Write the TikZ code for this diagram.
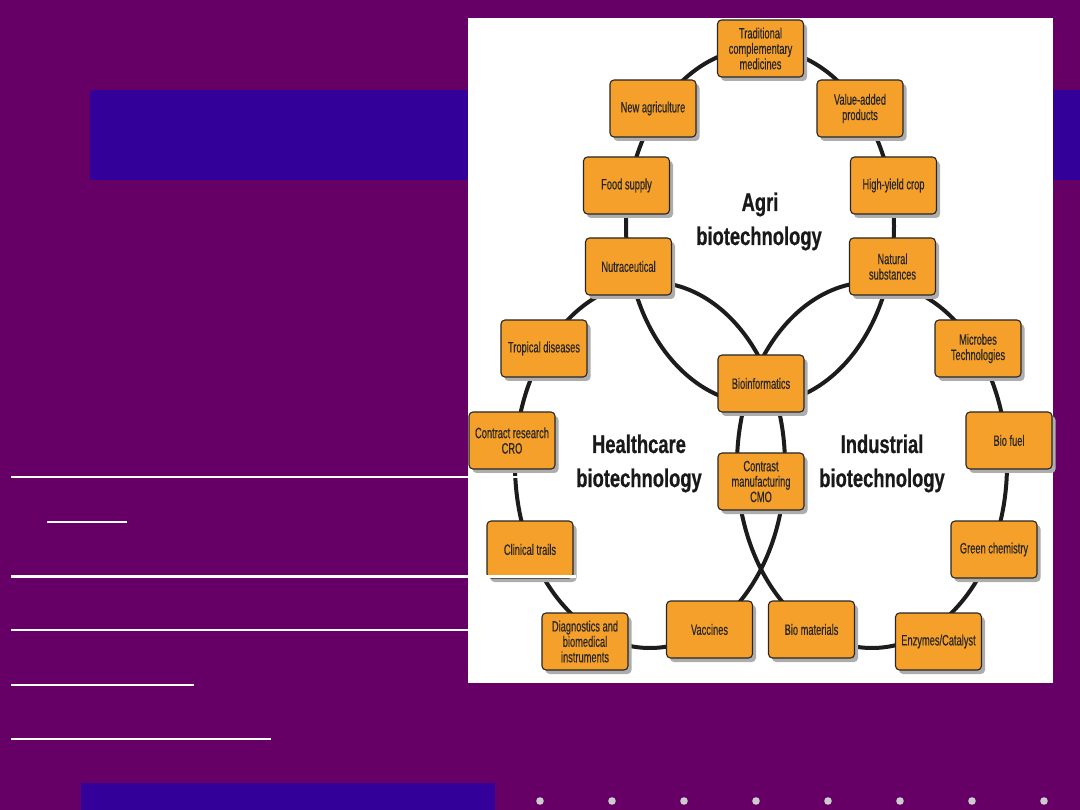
\documentclass[tikz,border=0pt]{standalone}
\usepackage{fontspec}
\usetikzlibrary{shadows}
\newfontfamily\boxfont[FakeStretch=0.62,FakeBold=0.25]{Liberation Sans}
\newfontfamily\labfont[FakeStretch=0.72,FakeBold=0.6]{Liberation Sans}
\definecolor{bgpurple}{HTML}{660066}
\definecolor{bandblue}{HTML}{330099}
\definecolor{boxorange}{HTML}{F5A02B}
\definecolor{ringcol}{HTML}{1C1C1C}
\definecolor{dotgray}{HTML}{CCCCCC}
\begin{document}
\begin{tikzpicture}[x=1pt,y=-1pt,
  item/.style={draw=black!85, line width=1.1pt, fill=boxorange, rounded corners=4pt,
    minimum width=86pt, minimum height=57pt, inner sep=1pt, align=center,
    font=\boxfont\fontsize{15}{15.4}\selectfont, text=black!85,
    drop shadow={shadow xshift=3.5pt, shadow yshift=-4pt, fill=black!32, opacity=1}},
  ring/.style={draw=ringcol, line width=4pt},
  heading/.style={font=\labfont\bfseries\fontsize{25.5}{30}\selectfont, anchor=base, text=black!90, inner sep=0pt},
  whiterule/.style={draw=white, line width=2.5pt}
]
\useasboundingbox (0,0) rectangle (1080,810);
\fill[bgpurple] (0,0) rectangle (1080,810);
\fill[bandblue] (90,90) rectangle (1080,180);
\fill[white] (468,18) rectangle (1053,683);

% three biotechnology rings
\draw[ring] (760,226) ellipse [x radius=134pt, y radius=178pt];
\draw[ring] (650,465) ellipse [x radius=135pt, y radius=183pt];
\draw[ring] (872,465) ellipse [x radius=135pt, y radius=183pt];

% headings
\node[heading] (agri1) at (760,211) {Agri};
\node[heading] (agri2) at (759,245) {biotechnology};
\node[heading] (health1) at (639,453) {Healthcare};
\node[heading] (health2) at (639,487) {biotechnology};
\node[heading] (indus1) at (882,453) {Industrial};
\node[heading] (indus2) at (882,487) {biotechnology};

% boxes
\node[item] (trad) at (760.5,48.5) {Traditional\\complementary\\medicines};
\node[item] (newag) at (653,108.5) {New agriculture};
\node[item] (valadd) at (860,108.5) {Value-added\\products};
\node[item] (food) at (626.5,185.5) {Food supply};
\node[item] (highy) at (893.5,185.5) {High-yield crop};
\node[item] (nutra) at (628.5,266.5) {Nutraceutical};
\node[item] (natsub) at (892.5,266.5) {Natural\\substances};
\node[item] (tropic) at (544,348.5) {Tropical diseases};
\node[item] (microbes) at (978,348.5) {Microbes\\Technologies};
\node[item] (bioinf) at (761,383.5) {Bioinformatics};
\node[item] (cro) at (512,440.5) {Contract research\\CRO};
\node[item] (biofuel) at (1009,440.5) {Bio fuel};
\node[item] (cmo) at (761,481.5) {Contrast\\manufacturing\\CMO};
\node[item] (clinical) at (530,549.5) {Clinical trails};
\node[item] (green) at (994,549.5) {Green chemistry};
\node[item] (diag) at (585,641.5) {Diagnostics and\\biomedical\\instruments};
\node[item] (vacc) at (709.5,629.5) {Vaccines};
\node[item] (biomat) at (811.5,629.5) {Bio materials};
\node[item] (enzym) at (938.5,641.5) {Enzymes/Catalyst};

% white rules of the slide
\draw[whiterule] (11,477) -- (520,477);
\draw[whiterule] (47,522) -- (127,522);
\draw[whiterule] (11,576.5) -- (576,576.5);
\draw[whiterule] (11,630) -- (468,630);
\draw[whiterule] (11,685) -- (194,685);
\draw[whiterule] (11,739) -- (271,739);

% bottom bar and dots
\fill[bandblue] (81,783) rectangle (495,810);
\foreach \i in {0,...,7} \fill[dotgray] (540+72*\i,801) circle [radius=3.8pt];
\end{tikzpicture}
\end{document}
